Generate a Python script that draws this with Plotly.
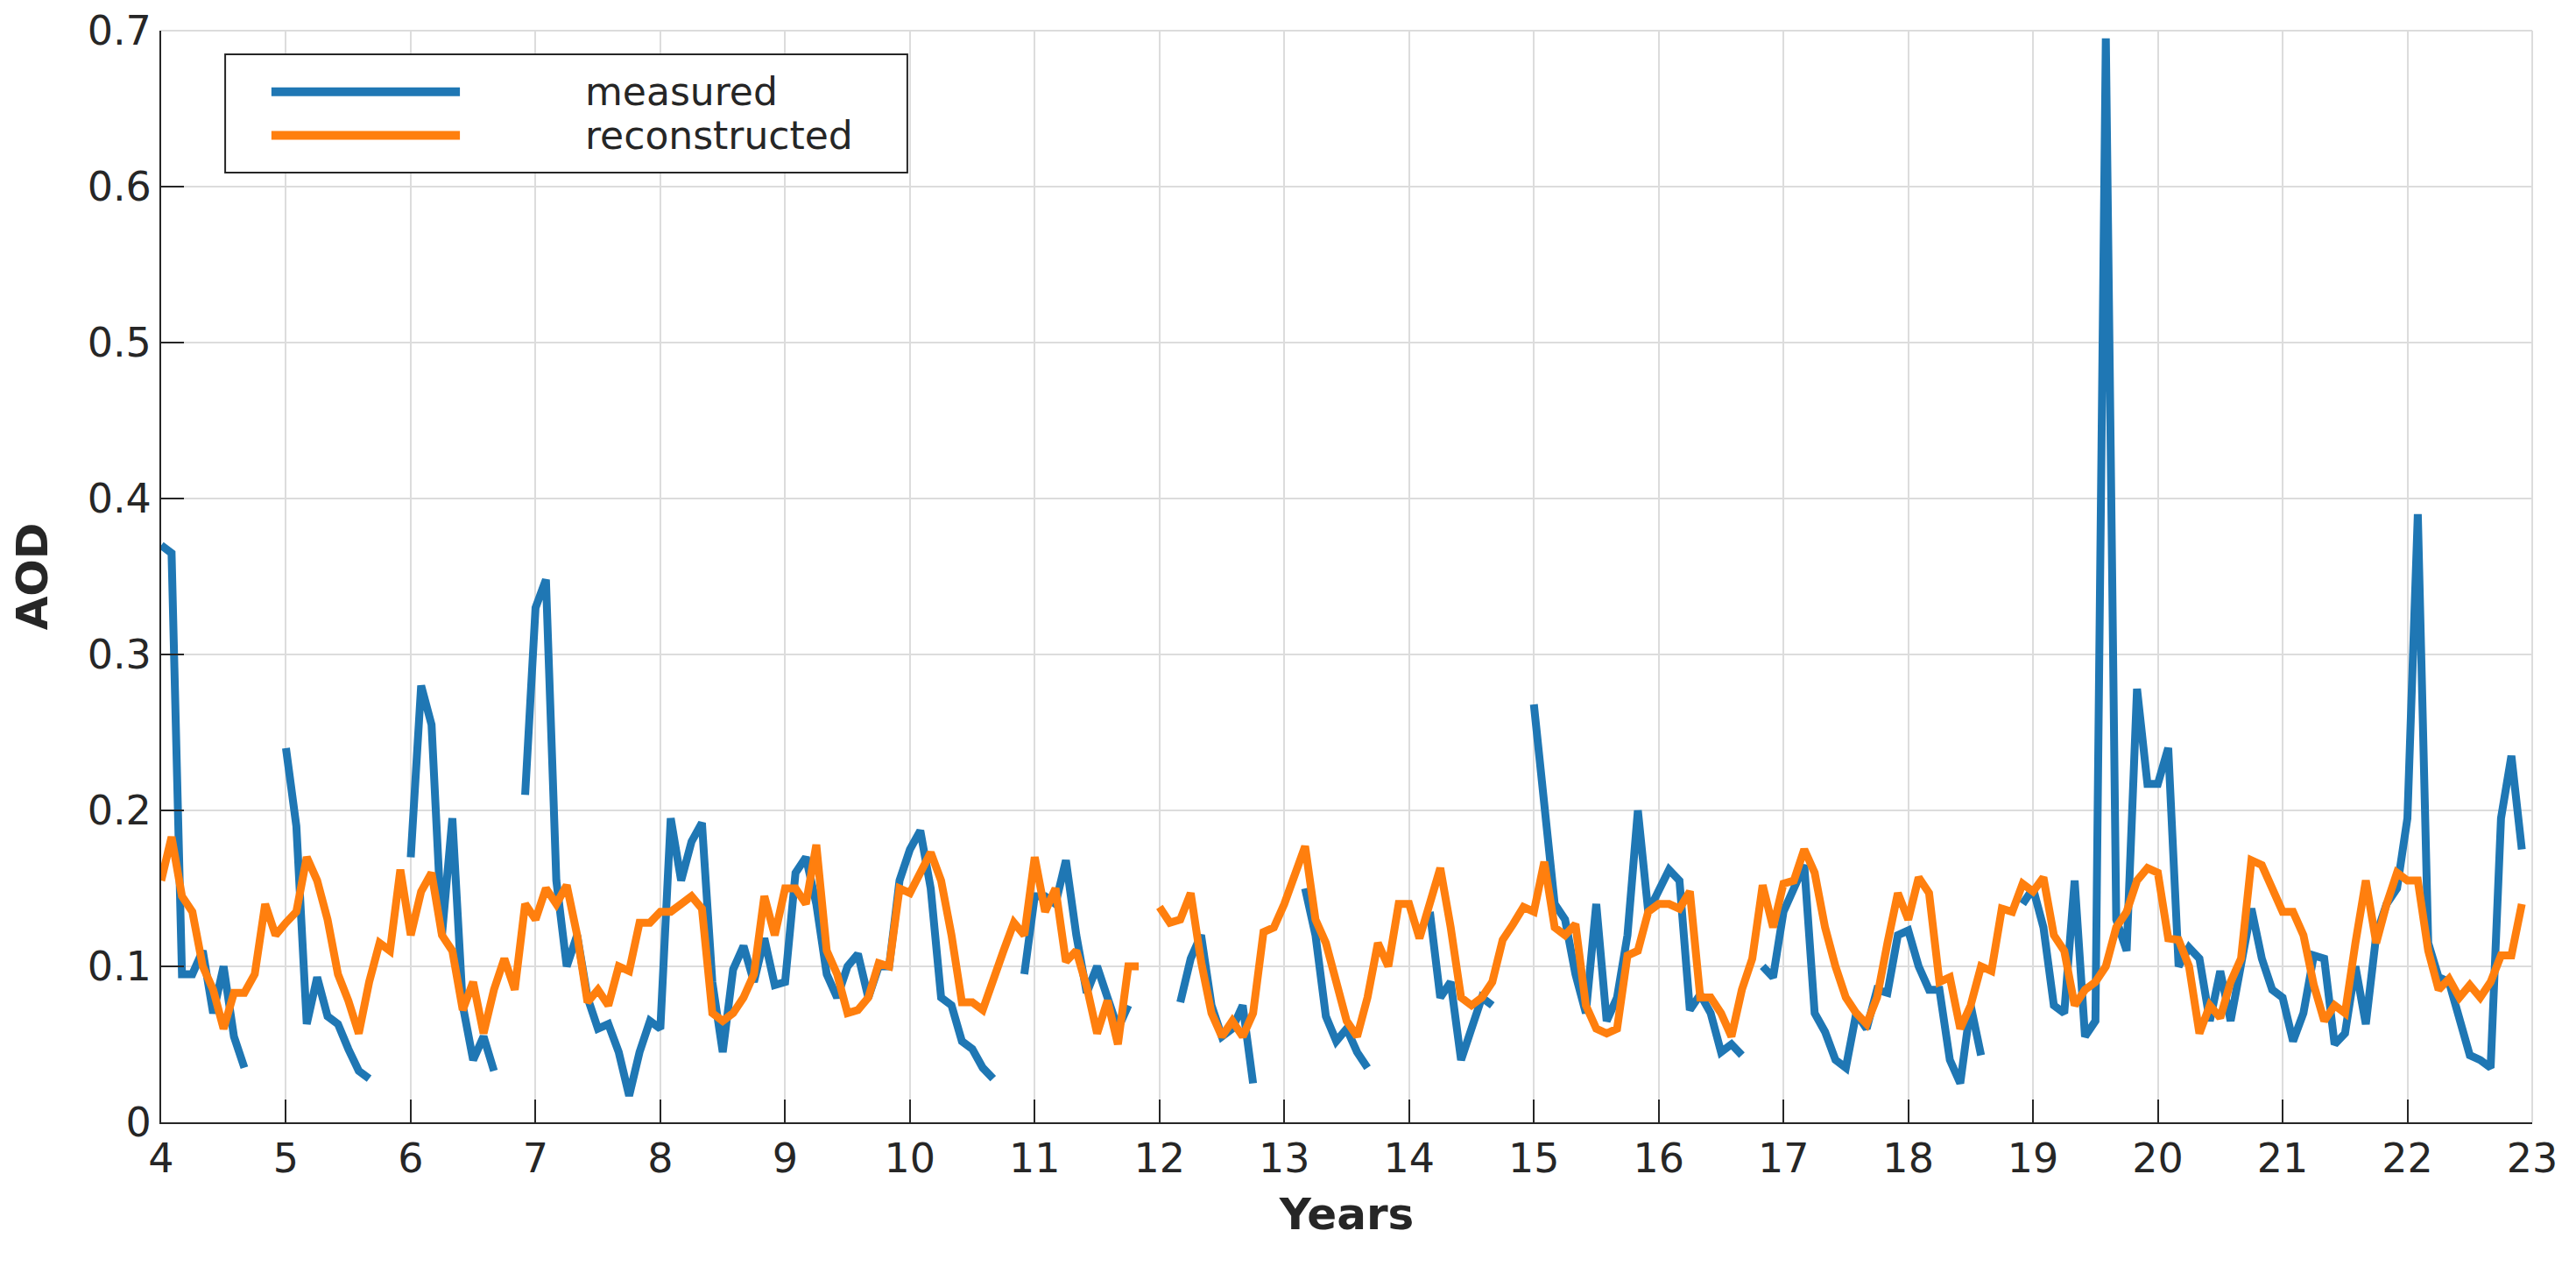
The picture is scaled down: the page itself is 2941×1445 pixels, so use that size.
import plotly.graph_objects as go

N = None
start_year = 4
measured_rows = [
    [0.37, 0.365, 0.095, 0.095, 0.11, 0.07, 0.1, 0.055, 0.035, N, N, N],          # 4
    [0.24, 0.19, 0.063, 0.093, 0.068, 0.063, 0.047, 0.033, 0.028, N, N, N],      # 5
    [0.17, 0.28, 0.255, 0.12, 0.195, 0.075, 0.04, 0.055, 0.033, N, N, 0.21],      # 6
    [0.33, 0.348, 0.155, 0.1, 0.12, 0.08, 0.06, 0.063, 0.045, 0.017, 0.045, 0.065],  # 7
    [0.06, 0.195, 0.155, 0.18, 0.192, 0.09, 0.045, 0.098, 0.113, 0.09, 0.118, 0.088],  # 8
    [0.09, 0.16, 0.17, 0.14, 0.095, 0.08, 0.1, 0.108, 0.08, 0.1, 0.1, 0.155],     # 9
    [0.175, 0.187, 0.15, 0.08, 0.075, 0.052, 0.047, 0.035, 0.028, N, N, 0.095],   # 10
    [0.145, 0.145, 0.14, 0.168, 0.12, 0.083, 0.1, 0.08, 0.06, 0.075, N, N],       # 11
    [N, N, 0.077, 0.105, 0.12, 0.075, 0.055, 0.06, 0.075, 0.025, N, N],           # 12
    [N, N, 0.15, 0.12, 0.068, 0.052, 0.06, 0.045, 0.035, N, N, N],                # 13
    [N, N, 0.135, 0.08, 0.09, 0.04, 0.06, 0.08, 0.075, N, N, N],                  # 14
    [0.268, 0.2, 0.14, 0.13, 0.095, 0.07, 0.14, 0.065, 0.08, 0.12, 0.2, 0.135],   # 15
    [0.15, 0.162, 0.155, 0.072, 0.082, 0.07, 0.045, 0.05, 0.043, N, 0.1, 0.093],  # 16
    [0.135, 0.15, 0.165, 0.07, 0.058, 0.04, 0.035, 0.07, 0.06, 0.085, 0.083, 0.12],  # 17
    [0.123, 0.1, 0.085, 0.085, 0.04, 0.025, 0.075, 0.043, N, N, N, 0.14],         # 18
    [0.15, 0.125, 0.075, 0.07, 0.155, 0.055, 0.065, 0.695, 0.13, 0.11, 0.278, 0.217],  # 19
    [0.217, 0.24, 0.1, 0.112, 0.105, 0.065, 0.097, 0.065, 0.1, 0.137, 0.105, 0.085],  # 20
    [0.08, 0.052, 0.07, 0.107, 0.105, 0.05, 0.057, 0.1, 0.063, 0.12, 0.14, 0.15],  # 21
    [0.195, 0.39, 0.115, 0.093, 0.09, 0.067, 0.043, 0.04, 0.035, 0.195, 0.235, 0.175],  # 22
]
reconstructed_rows = [
    [0.155, 0.183, 0.145, 0.135, 0.1, 0.085, 0.06, 0.083, 0.083, 0.095, 0.14, 0.12],   # 4
    [0.128, 0.135, 0.17, 0.155, 0.13, 0.095, 0.078, 0.057, 0.09, 0.115, 0.11, 0.162],  # 5
    [0.12, 0.148, 0.16, 0.12, 0.11, 0.072, 0.09, 0.057, 0.085, 0.105, 0.085, 0.14],    # 6
    [0.13, 0.15, 0.14, 0.152, 0.12, 0.077, 0.085, 0.075, 0.1, 0.097, 0.128, 0.128],    # 7
    [0.135, 0.135, 0.14, 0.145, 0.137, 0.07, 0.065, 0.07, 0.08, 0.095, 0.145, 0.12],   # 8
    [0.15, 0.15, 0.14, 0.178, 0.11, 0.095, 0.07, 0.072, 0.08, 0.102, 0.1, 0.15],       # 9
    [0.147, 0.16, 0.173, 0.155, 0.12, 0.077, 0.077, 0.072, 0.093, 0.11, 0.128, 0.12],  # 10
    [0.17, 0.135, 0.15, 0.103, 0.11, 0.087, 0.057, 0.078, 0.05, 0.1, 0.1, N],          # 11
    [0.138, 0.128, 0.13, 0.147, 0.103, 0.07, 0.055, 0.065, 0.055, 0.07, 0.122, 0.125], # 12
    [0.14, 0.157, 0.177, 0.13, 0.115, 0.09, 0.065, 0.055, 0.08, 0.115, 0.1, 0.14],     # 13
    [0.14, 0.118, 0.14, 0.163, 0.125, 0.08, 0.075, 0.08, 0.09, 0.117, 0.127, 0.138],   # 14
    [0.135, 0.167, 0.125, 0.12, 0.127, 0.075, 0.06, 0.057, 0.06, 0.107, 0.11, 0.135],  # 15
    [0.14, 0.14, 0.137, 0.148, 0.08, 0.08, 0.07, 0.055, 0.085, 0.105, 0.152, 0.125],   # 16
    [0.153, 0.155, 0.175, 0.16, 0.125, 0.1, 0.08, 0.07, 0.063, 0.08, 0.115, 0.147],    # 17
    [0.13, 0.157, 0.147, 0.09, 0.093, 0.06, 0.075, 0.1, 0.097, 0.137, 0.135, 0.153],   # 18
    [0.148, 0.157, 0.12, 0.11, 0.075, 0.085, 0.09, 0.1, 0.125, 0.135, 0.155, 0.163],   # 19
    [0.16, 0.118, 0.117, 0.1, 0.057, 0.075, 0.067, 0.09, 0.105, 0.168, 0.165, 0.15],   # 20
    [0.135, 0.135, 0.12, 0.088, 0.065, 0.075, 0.07, 0.115, 0.155, 0.115, 0.14, 0.16],  # 21
    [0.155, 0.155, 0.11, 0.085, 0.092, 0.08, 0.088, 0.08, 0.09, 0.107, 0.107, 0.14],   # 22
]
series_names = ["measured", "reconstructed"]
x_ticks = list(range(4, 24))
y_ticks = [0, 0.1, 0.2, 0.3, 0.4, 0.5, 0.6, 0.7]
y_tick_labels = ["0", "0.1", "0.2", "0.3", "0.4", "0.5", "0.6", "0.7"]

measured = [v for row in measured_rows for v in row]
reconstructed = [v for row in reconstructed_rows for v in row]
years = [start_year + i / 12 for i in range(len(measured))]

BLUE = "#1f77b4"
ORANGE = "#ff7f0e"
DARK = "#262626"
GRID = "#dcdcdc"
FONT = "DejaVu Sans"

fig = go.Figure()
fig.add_trace(go.Scatter(x=years, y=measured, mode="lines", name=series_names[0],
                         line=dict(color=BLUE, width=9), connectgaps=False,
                         showlegend=False))
fig.add_trace(go.Scatter(x=years, y=reconstructed, mode="lines", name=series_names[1],
                         line=dict(color=ORANGE, width=9), connectgaps=False,
                         showlegend=False))

axis_common = dict(showline=True, linecolor=DARK, linewidth=2, mirror=False,
                   showgrid=True, gridcolor=GRID, gridwidth=2,
                   ticks="inside", ticklen=26, tickwidth=2, tickcolor=DARK,
                   tickfont=dict(family=FONT, size=46, color=DARK),
                   zeroline=False, automargin=False)

# legend box (paper coordinates), drawn MATLAB-style with long line samples
box = dict(x0=0.027, x1=0.3147, y0=0.870, y1=0.9783)
sample_x = (0.0465, 0.126)
sample_y = [0.944, 0.904]
text_x = 0.178
shapes = [
    # light frame on the open top / right sides (grid-coloured, as in the reference)
    dict(type="line", xref="paper", yref="paper", x0=0, x1=1, y0=1, y1=1,
         line=dict(color=GRID, width=2), layer="below"),
    dict(type="line", xref="paper", yref="paper", x0=1, x1=1, y0=0, y1=1,
         line=dict(color=GRID, width=2), layer="below"),
    dict(type="rect", xref="paper", yref="paper", **box,
         line=dict(color=DARK, width=2), fillcolor="white", layer="above"),
]
annotations = []
for name, col, yy in zip(series_names, [BLUE, ORANGE], sample_y):
    shapes.append(dict(type="line", xref="paper", yref="paper",
                       x0=sample_x[0], x1=sample_x[1], y0=yy, y1=yy,
                       line=dict(color=col, width=10), layer="above"))
    annotations.append(dict(xref="paper", yref="paper", x=text_x, y=yy,
                            xanchor="left", yanchor="middle", showarrow=False,
                            text=name, font=dict(family=FONT, size=44, color=DARK)))

# page body has an 8px default margin; size the figure to fit the window exactly
fig.update_layout(
    template="none",
    width=2925, height=1429,
    margin=dict(l=176, r=42, t=27, b=156, pad=0),
    paper_bgcolor="white", plot_bgcolor="white",
    font=dict(family=FONT, color=DARK),
    xaxis=dict(range=[4, 23], tickvals=x_ticks, ticktext=[str(t) for t in x_ticks],
               title=dict(text="<b>Years</b>", font=dict(family=FONT, size=50), standoff=20),
               **axis_common),
    yaxis=dict(range=[0, 0.7], tickvals=y_ticks, ticktext=y_tick_labels,
               title=dict(text="<b>AOD</b>", font=dict(family=FONT, size=50), standoff=30),
               **axis_common),
    shapes=shapes,
    annotations=annotations,
    showlegend=False,
)

fig.write_html("out.html")
